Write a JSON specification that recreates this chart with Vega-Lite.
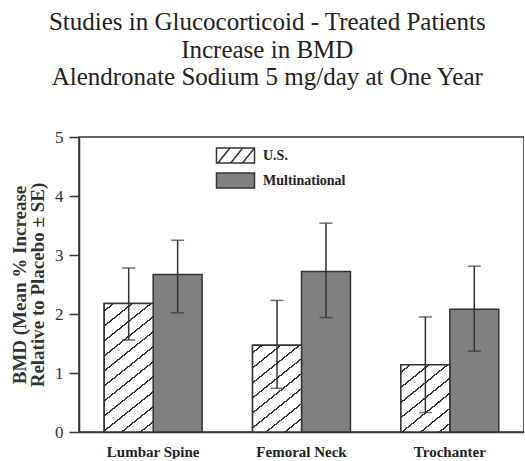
{
  "$schema": "https://vega.github.io/schema/vega-lite/v6.json",
  "width": 445,
  "height": 295,
  "padding": {"left": 10, "top": 10, "right": 0, "bottom": 0},
  "background": "white",
  "title": {
    "text": ["Studies in Glucocorticoid - Treated Patients", "Increase in BMD", "Alendronate Sodium 5 mg/day at One Year"],
    "font": "Liberation Serif",
    "fontSize": 25,
    "fontWeight": "normal",
    "lineHeight": 27.5,
    "color": "#222",
    "anchor": "middle",
    "frame": "bounds",
    "offset": 38
  },
  "config": {
    "view": {"stroke": "#333", "strokeWidth": 1.5},
    "font": "Liberation Serif"
  },
  "data": {
    "values": [
      {"site": "Lumbar Spine", "series": "U.S.", "value": 2.18, "lo": 1.56, "hi": 2.78},
      {"site": "Lumbar Spine", "series": "Multinational", "value": 2.67, "lo": 2.02, "hi": 3.25},
      {"site": "Femoral Neck", "series": "U.S.", "value": 1.47, "lo": 0.74, "hi": 2.23},
      {"site": "Femoral Neck", "series": "Multinational", "value": 2.72, "lo": 1.94, "hi": 3.54},
      {"site": "Trochanter", "series": "U.S.", "value": 1.14, "lo": 0.33, "hi": 1.95},
      {"site": "Trochanter", "series": "Multinational", "value": 2.08, "lo": 1.37, "hi": 2.81}
    ]
  },
  "encoding": {
    "x": {
      "field": "site", "type": "nominal",
      "sort": ["Lumbar Spine", "Femoral Neck", "Trochanter"],
      "scale": {"paddingInner": 0.34, "paddingOuter": 0.17},
      "axis": {
        "title": null, "labelAngle": 0, "ticks": false,
        "domainColor": "#333", "domainWidth": 1.5,
        "labelFont": "Liberation Serif", "labelFontWeight": "bold", "labelFontSize": 15,
        "labelColor": "#222", "labelPadding": 12
      }
    },
    "xOffset": {
      "field": "series", "type": "nominal",
      "scale": {"domain": ["U.S.", "Multinational"], "paddingInner": 0, "paddingOuter": 0}
    }
  },
  "layer": [
    {
      "mark": {"type": "bar", "stroke": "#333", "strokeWidth": 1.5},
      "encoding": {
        "y": {
          "field": "value", "type": "quantitative",
          "scale": {"domain": [0, 5], "nice": false},
          "axis": {
            "values": [0, 1, 2, 3, 4, 5], "format": "d", "grid": false,
            "tickSize": 10, "tickColor": "#333", "tickWidth": 1.5,
            "domainColor": "#333", "domainWidth": 1.5,
            "labelFont": "Liberation Serif", "labelFontSize": 17, "labelColor": "#333", "labelPadding": 6,
            "title": ["BMD (Mean % Increase", "Relative to Placebo ± SE)"],
            "titleFont": "Liberation Serif", "titleFontSize": 19, "titleFontWeight": "bold",
            "titleColor": "#333", "titlePadding": 7, "titleLineHeight": 18
          }
        },
        "fill": {
          "field": "series", "type": "nominal",
          "scale": {"domain": ["U.S.", "Multinational"], "range": ["white", "#808080"]},
          "legend": {
            "title": null, "orient": "none", "legendX": 146, "legendY": 8, "padding": 0,
            "symbolType": "M-2,-0.78H2V0.78H-2Z", "symbolSize": 361,
            "symbolStrokeColor": "#333", "symbolStrokeWidth": 1.5, "symbolOpacity": 1,
            "labelFont": "Liberation Serif", "labelFontWeight": "bold", "labelFontSize": 14,
            "labelColor": "#222", "labelOffset": 17, "rowPadding": 4,
            "encode": {
              "symbols": {
                "update": {
                  "shape": [
                    {"test": "datum.value === 'U.S.'", "value": "M-2,-0.78H2V0.78H-2Z M-1.85,0.78L-0.59,-0.78 M-0.5,0.78L0.76,-0.78 M0.74,0.78L2,-0.78"},
                    {"value": "M-2,-0.78H2V0.78H-2Z"}
                  ]
                }
              }
            }
          }
        }
      }
    },
    {
      "transform": [{"filter": "datum.site == 'Lumbar Spine' && datum.series == 'U.S.'"}],
      "mark": {"type": "bar", "stroke": "#333", "strokeWidth": 1.5,
        "fill": {"gradient": "linear", "x1": 0, "y1": 0, "x2": 0.364, "y2": 1.194, "stops": [
          {"offset": 0, "color": "white"},
          {"offset": 0.0393, "color": "white"}, {"offset": 0.0393, "color": "#333"}, {"offset": 0.0501, "color": "#333"}, {"offset": 0.0501, "color": "white"},
          {"offset": 0.1287, "color": "white"}, {"offset": 0.1287, "color": "#333"}, {"offset": 0.1395, "color": "#333"}, {"offset": 0.1395, "color": "white"},
          {"offset": 0.2181, "color": "white"}, {"offset": 0.2181, "color": "#333"}, {"offset": 0.2289, "color": "#333"}, {"offset": 0.2289, "color": "white"},
          {"offset": 0.3075, "color": "white"}, {"offset": 0.3075, "color": "#333"}, {"offset": 0.3183, "color": "#333"}, {"offset": 0.3183, "color": "white"},
          {"offset": 0.3969, "color": "white"}, {"offset": 0.3969, "color": "#333"}, {"offset": 0.4077, "color": "#333"}, {"offset": 0.4077, "color": "white"},
          {"offset": 0.4863, "color": "white"}, {"offset": 0.4863, "color": "#333"}, {"offset": 0.4971, "color": "#333"}, {"offset": 0.4971, "color": "white"},
          {"offset": 0.5757, "color": "white"}, {"offset": 0.5757, "color": "#333"}, {"offset": 0.5865, "color": "#333"}, {"offset": 0.5865, "color": "white"},
          {"offset": 0.6651, "color": "white"}, {"offset": 0.6651, "color": "#333"}, {"offset": 0.6759, "color": "#333"}, {"offset": 0.6759, "color": "white"},
          {"offset": 0.7545, "color": "white"}, {"offset": 0.7545, "color": "#333"}, {"offset": 0.7653, "color": "#333"}, {"offset": 0.7653, "color": "white"},
          {"offset": 0.8439, "color": "white"}, {"offset": 0.8439, "color": "#333"}, {"offset": 0.8547, "color": "#333"}, {"offset": 0.8547, "color": "white"},
          {"offset": 0.9333, "color": "white"}, {"offset": 0.9333, "color": "#333"}, {"offset": 0.9441, "color": "#333"}, {"offset": 0.9441, "color": "white"},
          {"offset": 1, "color": "white"}
        ]}
      },
      "encoding": {"y": {"field": "value", "type": "quantitative"}}
    },
    {
      "transform": [{"filter": "datum.site == 'Femoral Neck' && datum.series == 'U.S.'"}],
      "mark": {"type": "bar", "stroke": "#333", "strokeWidth": 1.5,
        "fill": {"gradient": "linear", "x1": 0, "y1": 0, "x2": 0.545, "y2": 1.206, "stops": [
          {"offset": 0, "color": "white"},
          {"offset": 0.0524, "color": "white"}, {"offset": 0.0524, "color": "#333"}, {"offset": 0.0668, "color": "#333"}, {"offset": 0.0668, "color": "white"},
          {"offset": 0.1716, "color": "white"}, {"offset": 0.1716, "color": "#333"}, {"offset": 0.1860, "color": "#333"}, {"offset": 0.1860, "color": "white"},
          {"offset": 0.2908, "color": "white"}, {"offset": 0.2908, "color": "#333"}, {"offset": 0.3052, "color": "#333"}, {"offset": 0.3052, "color": "white"},
          {"offset": 0.4100, "color": "white"}, {"offset": 0.4100, "color": "#333"}, {"offset": 0.4244, "color": "#333"}, {"offset": 0.4244, "color": "white"},
          {"offset": 0.5292, "color": "white"}, {"offset": 0.5292, "color": "#333"}, {"offset": 0.5436, "color": "#333"}, {"offset": 0.5436, "color": "white"},
          {"offset": 0.6484, "color": "white"}, {"offset": 0.6484, "color": "#333"}, {"offset": 0.6628, "color": "#333"}, {"offset": 0.6628, "color": "white"},
          {"offset": 0.7676, "color": "white"}, {"offset": 0.7676, "color": "#333"}, {"offset": 0.7820, "color": "#333"}, {"offset": 0.7820, "color": "white"},
          {"offset": 0.8868, "color": "white"}, {"offset": 0.8868, "color": "#333"}, {"offset": 0.9012, "color": "#333"}, {"offset": 0.9012, "color": "white"},
          {"offset": 1, "color": "white"}
        ]}
      },
      "encoding": {"y": {"field": "value", "type": "quantitative"}}
    },
    {
      "transform": [{"filter": "datum.site == 'Trochanter' && datum.series == 'U.S.'"}],
      "mark": {"type": "bar", "stroke": "#333", "strokeWidth": 1.5,
        "fill": {"gradient": "linear", "x1": 0, "y1": 0, "x2": 0.694, "y2": 1.18, "stops": [
          {"offset": 0, "color": "white"},
          {"offset": 0.0623, "color": "white"}, {"offset": 0.0623, "color": "#333"}, {"offset": 0.0793, "color": "#333"}, {"offset": 0.0793, "color": "white"},
          {"offset": 0.2039, "color": "white"}, {"offset": 0.2039, "color": "#333"}, {"offset": 0.2209, "color": "#333"}, {"offset": 0.2209, "color": "white"},
          {"offset": 0.3455, "color": "white"}, {"offset": 0.3455, "color": "#333"}, {"offset": 0.3625, "color": "#333"}, {"offset": 0.3625, "color": "white"},
          {"offset": 0.4871, "color": "white"}, {"offset": 0.4871, "color": "#333"}, {"offset": 0.5041, "color": "#333"}, {"offset": 0.5041, "color": "white"},
          {"offset": 0.6287, "color": "white"}, {"offset": 0.6287, "color": "#333"}, {"offset": 0.6457, "color": "#333"}, {"offset": 0.6457, "color": "white"},
          {"offset": 0.7703, "color": "white"}, {"offset": 0.7703, "color": "#333"}, {"offset": 0.7873, "color": "#333"}, {"offset": 0.7873, "color": "white"},
          {"offset": 0.9119, "color": "white"}, {"offset": 0.9119, "color": "#333"}, {"offset": 0.9289, "color": "#333"}, {"offset": 0.9289, "color": "white"},
          {"offset": 1, "color": "white"}
        ]}
      },
      "encoding": {"y": {"field": "value", "type": "quantitative"}}
    },
    {
      "mark": {"type": "rule", "color": "#333", "strokeWidth": 1.5},
      "encoding": {
        "y": {"field": "lo", "type": "quantitative"},
        "y2": {"field": "hi"}
      }
    },
    {
      "mark": {"type": "tick", "color": "#333", "size": 13, "thickness": 1.5},
      "encoding": {"y": {"field": "lo", "type": "quantitative"}}
    },
    {
      "mark": {"type": "tick", "color": "#333", "size": 13, "thickness": 1.5},
      "encoding": {"y": {"field": "hi", "type": "quantitative"}}
    }
  ]
}
